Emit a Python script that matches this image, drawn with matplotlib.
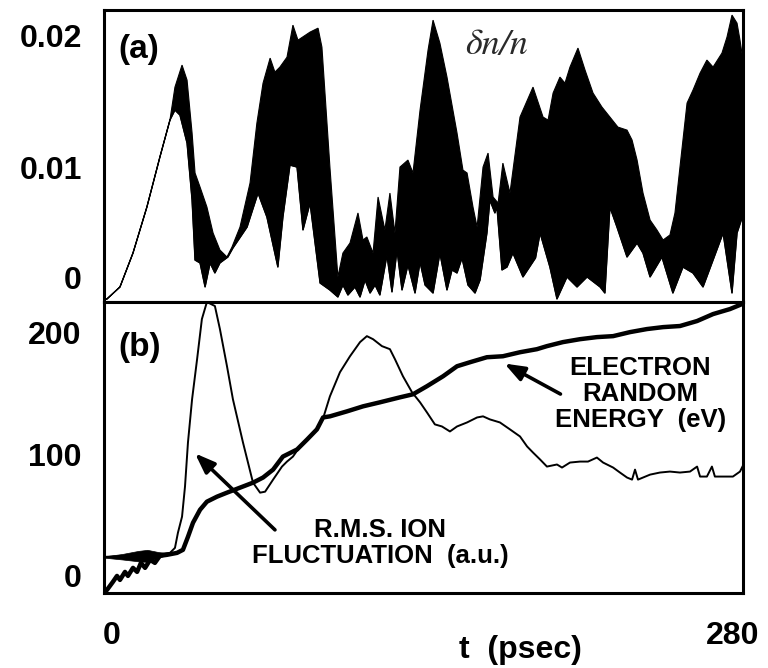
import numpy as np
import matplotlib
matplotlib.use('Agg')
import matplotlib.pyplot as plt
import matplotlib.transforms as mtransforms

plt.rcParams['font.family'] = ['Liberation Sans', 'DejaVu Sans']
plt.rcParams['font.weight'] = 'bold'
plt.rcParams['axes.labelweight'] = 'bold'

# ---- panel (a): delta n / n, noisy band given by its upper and lower envelope
dn_up_t = [0, 1.3, 7.0, 12.7, 18.8, 24.5, 28.9, 31.1, 34.2, 36.4, 38.6, 39.9, 42.1, 45.1,
           47.8, 50.8, 53.9, 56.1, 59.6, 64.0, 67.0, 69.7, 72.8, 74.9, 77.1, 80.2, 82.8,
           85.0, 90.3, 93.8, 95.5, 99.0, 102.5, 104.7, 107.8, 111.3, 113.5, 115.2, 117.9,
           120.1, 123.1, 125.3, 127.5, 129.7, 133.2, 135.4, 138.5, 142.0, 144.2, 147.2,
           150.3, 154.7, 157.3, 159.1, 161.7, 163.5, 166.1, 168.3, 170.5, 172.7, 174.8,
           177.9, 182.3, 188.0, 192.4, 194.6, 196.8, 199.8, 202.0, 204.2, 207.7, 210.8,
           214.3, 218.2, 221.7, 225.2, 229.2, 231.4, 233.6, 236.2, 239.3, 242.3, 245.0,
           248.0, 250.2, 252.4, 255.5, 258.1, 261.2, 264.2, 266.9, 270.8, 273.0, 275.2,
           277.4, 278.7, 280.0]
dn_up = [0, 0, 0.91, 3.48, 6.97, 10.76, 13.56, 16.06, 17.73, 16.59, 12.58, 9.55, 8.48, 6.97,
         5.00, 3.71, 3.18, 3.94, 5.45, 8.79, 13.33, 16.36, 18.26, 17.20, 17.58, 18.33, 20.76,
         19.62, 20.23, 20.53, 19.09, 10.00, 1.67, 3.48, 4.24, 6.52, 4.47, 4.70, 3.48,
         7.73, 5.23, 8.03, 5.00, 10.00, 10.53, 9.55, 14.32, 18.86, 21.14, 19.39,
         16.82, 12.58, 9.77, 9.55, 6.97, 5.45, 10.00, 11.06, 7.73, 7.27, 10.30,
         8.03, 13.79, 16.06, 13.79, 13.56, 15.61, 16.82, 16.36, 17.58, 19.02, 17.35,
         15.61, 14.55, 13.79, 13.03, 12.80, 12.05, 10.53, 8.03, 5.98, 5.23, 4.47,
         4.85, 6.52, 10.00, 14.85, 15.83, 17.12, 18.11, 17.58, 18.64, 19.85, 21.52,
         20.91, 19.62, 18.10]

dn_lo_t = [0, 1.3, 7.0, 12.7, 18.8, 24.5, 28.9, 31.1, 33.3, 36.4, 38.6, 39.9, 42.1, 44.3,
           46.5, 48.6, 50.8, 54.3, 56.5, 62.7, 67.5, 71.4, 76.2, 78.4, 81.5, 84.6, 87.2,
           90.3, 94.7, 99.0, 102.5, 104.7, 106.9, 110.0, 112.2, 114.4, 116.6, 118.8, 120.9,
           124.0, 126.2, 128.4, 130.6, 133.2, 136.3, 138.5, 140.7, 144.2, 147.2, 150.3,
           152.5, 154.7, 156.9, 159.5, 162.6, 164.8, 167.8, 169.1, 171.3, 172.2, 174.4,
           176.6, 179.2, 183.6, 189.1, 191.1, 195.4, 198.5, 202.9, 207.3, 211.7, 217.4,
           219.5, 221.7, 224.8, 229.2, 233.6, 236.2, 239.3, 244.5, 249.3, 253.7, 258.1,
           262.5, 266.9, 271.3, 275.2, 277.4, 280.0]
dn_lo = [0, 0, 0.91, 3.48, 6.97, 10.76, 13.56, 14.32, 13.94, 11.82, 7.50, 2.95, 2.73, 0.91,
         2.73, 1.97, 2.73, 3.18, 3.86, 5.45, 8.03, 6.21, 2.42, 6.21, 10.15, 10.00, 5.23,
         7.27, 1.21, 0.68, 0.15, 1.06, 0.30, 0.91, 0.15, 1.44, 0.45, 1.06, 0.30,
         3.33, 0.53, 3.71, 0.68, 2.58, 0.45, 2.80, 1.06, 0.45, 3.48, 0.68,
         2.20, 1.97, 3.11, 1.06, 0.45, 1.44, 5.00, 7.50, 6.52, 6.97, 2.20,
         2.42, 3.48, 1.67, 3.11, 5.00, 2.42, 0.00, 1.67, 0.91, 1.67, 0.91,
         0.45, 6.97, 5.45, 3.18, 4.24, 3.48, 1.67, 3.18, 0.45, 2.42, 1.97,
         0.91, 2.95, 5.00, 0.45, 5.00, 6.36]

# ---- panel (b): r.m.s. ion fluctuation (a.u.) and electron random energy (eV)
ion_t = [0, 11.4, 20.2, 28.9, 31.1, 32.4, 34.2, 35.5, 36.8, 38.6, 40.8, 42.9, 45.1, 48.6,
         50.8, 53.9, 56.5, 60.9, 65.3, 68.4, 70.6, 74.1, 78.0, 80.2, 82.8, 85.9, 89.0,
         93.3, 96.0, 99.0, 103.4, 107.8, 112.2, 115.2, 117.9, 121.8, 125.3, 127.5, 131.0,
         135.0, 138.5, 141.5, 145.0, 148.1, 151.6, 154.7, 159.1, 163.5, 166.1, 169.1,
         173.5, 177.9, 182.3, 185.4, 188.0, 191.1, 194.1, 198.5, 200.7, 204.2, 208.6,
         212.1, 216.0, 218.7, 223.1, 226.1, 229.2, 231.4, 232.7, 234.0, 239.3, 243.6,
         248.0, 252.4, 256.8, 259.9, 261.2, 264.2, 266.4, 267.7, 271.3, 275.6, 278.7, 280.0]
ion = [15.6, 16.5, 17.3, 18.9, 23.0, 35.4, 48.6, 73.3, 109.5, 144.9, 177.8, 210.7, 224.7, 221.4,
       202.5, 172.0, 144.9, 109.5, 76.5, 68.3, 69.1, 79.0, 89.7, 93.8, 97.9, 106.2, 111.9,
       120.2, 129.2, 147.3, 167.1, 180.2, 191.8, 196.7, 194.2, 188.5, 186.0, 177.8, 163.8,
       150.6, 142.4, 134.2, 124.3, 122.6, 118.5, 122.6, 125.9, 130.0, 130.9, 128.4,
       125.9, 120.2, 114.4, 106.2, 101.2, 95.5, 89.7, 91.4, 88.9, 93.0, 93.8,
       93.8, 97.1, 93.0, 88.9, 84.8, 80.7, 79.0, 87.2, 79.0, 83.1, 84.8,
       85.6, 84.8, 85.6, 89.7, 81.5, 81.5, 89.7, 81.5, 81.5, 81.5, 85.6, 90.5]

# early noisy wedge of the ion trace
ion_band_t = [0, 8, 15, 19, 24, 28]
ion_band_hi = [16.0, 18.0, 20.5, 21.4, 19.5, 18.5]
ion_band_lo = [15.0, 13.5, 12.0, 11.5, 15.0, 17.5]

el_t = [0, 1.3, 3.9, 5.7, 7.0, 9.2, 10.5, 12.7, 14.5, 16.2, 18.0, 20.2, 22.3, 24.5, 27.6,
        32.0, 34.6, 36.8, 39.0, 42.1, 45.1, 49.5, 53.9, 59.6, 65.3, 69.7, 74.1, 78.4,
        84.6, 89.0, 93.3, 96.0, 99.0, 106.5, 113.5, 120.9, 129.7, 135.4, 141.5, 148.6,
        154.7, 160.4, 167.8, 174.8, 182.3, 189.7, 194.1, 201.1, 208.6, 216.0, 223.1,
        230.5, 237.9, 245.0, 252.4, 259.9, 266.9, 274.3, 279.6]
el = [-13.0, -11.5, -4.9, 0.0, -3.3, 3.3, 0.0, 6.6, 3.3, 10.7, 6.6, 13.2, 10.7, 16.5, 17.3,
      18.9, 21.4, 32.1, 43.6, 54.3, 60.9, 65.0, 68.3, 72.4, 76.5, 80.7, 87.2, 97.9,
      103.7, 111.9, 120.2, 130.0, 130.9, 135.0, 139.1, 142.4, 146.5, 149.0, 155.6, 163.8,
      172.0, 175.3, 179.4, 180.2, 183.5, 186.0, 188.5, 191.8, 194.2, 195.9, 196.7,
      200.0, 202.5, 204.1, 205.0, 209.1, 214.8, 218.9, 223.0]

fig = plt.figure(figsize=(7.68, 6.68), dpi=100)
ax1 = fig.add_axes([0.1354, 0.5479, 0.832, 0.437])
ax2 = fig.add_axes([0.1354, 0.1123, 0.832, 0.4356])

# top panel: filled band between envelopes
poly_t = np.concatenate([dn_up_t, dn_lo_t[::-1]])
poly_v = np.concatenate([dn_up, dn_lo[::-1]]) * 1e-3
ax1.fill(poly_t, poly_v, color='k', lw=0.8)
ax1.plot(dn_lo_t, np.array(dn_lo) * 1e-3, color='k', lw=1.0)
ax1.set_xlim(0, 280)
ax1.set_ylim(-0.00023, 0.0219)
ax1.set_xticks([])
ax1.set_yticks([0, 0.01, 0.02])
ax1.set_yticklabels(['0', '0.01', '0.02'])
ax1.text(0.055, 0.866, '(a)', transform=ax1.transAxes, ha='center', va='center',
         fontsize=24)
ax1.text(0.615, 0.88, '\u03b4n/n', transform=ax1.transAxes, ha='center', va='center',
         fontsize=26, family='STIXGeneral', style='italic', fontweight='normal',
         color='#2a2a2a')

# bottom panel: two traces
ax2.fill_between(ion_band_t, ion_band_lo, ion_band_hi, color='k', lw=0.5)
ax2.plot(ion_t, ion, color='k', lw=1.4)
ax2.plot(el_t, el, color='k', lw=3.2)
ax2.set_xlim(0, 280)
ax2.set_ylim(-14, 224.7)
ax2.set_xticks([0, 280])
ax2.set_xticklabels(['0', '280'])
ax2.set_yticks([0, 100, 200])
ax2.text(0.055, 0.845, '(b)', transform=ax2.transAxes, ha='center', va='center',
         fontsize=24)

ax2.annotate('', xy=(39.0, 102.1), xytext=(75.8, 36.2),
             arrowprops=dict(arrowstyle='-|>,head_length=1.2,head_width=0.45', lw=2.6, color='k'))
ax2.annotate('', xy=(174.4, 175.3), xytext=(201.1, 148.1),
             arrowprops=dict(arrowstyle='-|>,head_length=1.2,head_width=0.45', lw=2.6, color='k'))
ax2.text(121, 27, 'R.M.S. ION\nFLUCTUATION  (a.u.)', ha='center', va='center',
         fontsize=18.5, linespacing=1.15)
ax2.text(235, 149, 'ELECTRON\nRANDOM\nENERGY  (eV)', ha='center', va='center',
         fontsize=18.5, linespacing=1.1)

ax2.set_xlabel('t  (psec)', fontsize=23)
ax2.xaxis.set_label_coords(0.651, -0.196)
ax2.xaxis.label.set_verticalalignment('center')

for ax in (ax1, ax2):
	for sp in ax.spines.values():
		sp.set_linewidth(2.2)
	ax.tick_params(length=0, labelsize=23, pad=16)

ax2.tick_params(axis='x', pad=20)

# hand-placed labels in the original: nudge a few of them
lab0 = ax1.get_yticklabels()[0]
lab0.set_transform(lab0.get_transform() + mtransforms.ScaledTranslation(0, 0.21, fig.dpi_scale_trans))
xl = ax2.get_xticklabels()
xl[0].set_transform(xl[0].get_transform() + mtransforms.ScaledTranslation(0.08, 0, fig.dpi_scale_trans))
xl[1].set_transform(xl[1].get_transform() + mtransforms.ScaledTranslation(-0.10, 0, fig.dpi_scale_trans))

fig.savefig('out.png', dpi=100)
